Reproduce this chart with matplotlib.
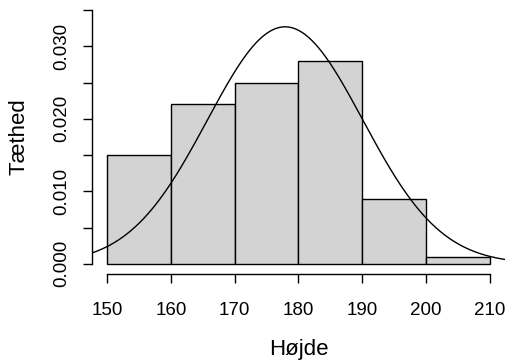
import numpy as np
import matplotlib.pyplot as plt

plt.rcParams['font.family'] = ['Liberation Sans', 'DejaVu Sans']

# histogram bins and densities
bin_edges = [150, 160, 170, 180, 190, 200, 210]
density = [0.015, 0.022, 0.025, 0.028, 0.009, 0.001]

# fitted normal curve
mu = 177.9
sigma = 12.2

fig = plt.figure(figsize=(5.07, 3.6), dpi=100)
ax = fig.add_axes([0.1815, 0.239, 0.8145, 0.761])

widths = np.diff(bin_edges)
ax.bar(bin_edges[:-1], density, width=widths, align='edge',
       color='#d3d3d3', edgecolor='black', linewidth=1.0)

xlim = (147.6, 212.4)
xs = np.linspace(xlim[0], xlim[1], 400)
ys = np.exp(-(xs - mu) ** 2 / (2 * sigma ** 2)) / (sigma * np.sqrt(2 * np.pi))
ax.plot(xs, ys, color='black', linewidth=1.0)

ax.set_xlim(*xlim)
ax.set_ylim(-0.0014, 0.0364)

# R style axes
for s in ['top', 'right']:
    ax.spines[s].set_visible(False)
ax.spines['left'].set_bounds(0, 0.035)
ax.spines['bottom'].set_bounds(150, 210)
ax.spines['left'].set_linewidth(1.0)
ax.spines['bottom'].set_linewidth(1.0)

ax.set_xticks(bin_edges)
ax.set_xticklabels([str(b) for b in bin_edges])
yt = np.arange(0, 0.0351, 0.005)
ax.set_yticks(yt)
ax.set_yticklabels(['%.3f' % v if i % 2 == 0 else '' for i, v in enumerate(yt)],
                   rotation=90, va='center')
ax.tick_params(axis='both', length=6.5, width=1.0, labelsize=13.5)
ax.tick_params(axis='x', pad=14)
ax.tick_params(axis='y', pad=9)

ax.set_xlabel('Højde', fontsize=16, labelpad=14)
ax.set_ylabel('Tæthed', fontsize=16, labelpad=17)

fig.savefig('out.png', dpi=100)
